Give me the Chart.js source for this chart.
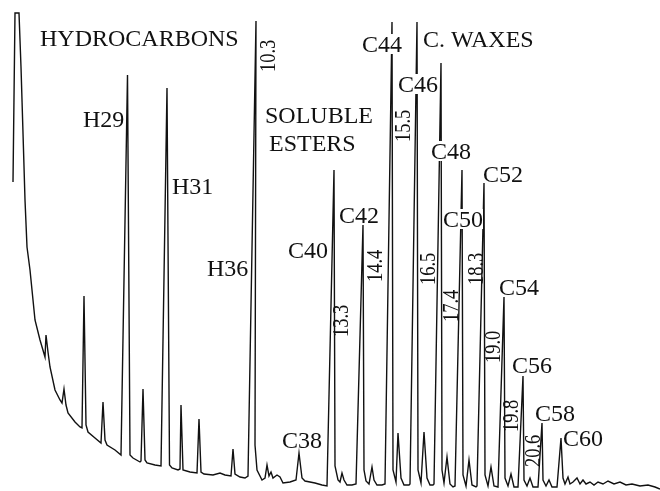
<!DOCTYPE html>
<html>
<head>
<meta charset="utf-8">
<script src="https://cdn.jsdelivr.net/npm/chart.js@4"></script>
<style>
  html, body { margin: 0; padding: 0; background: #ffffff; }
  #wrap { width: 660px; height: 491px; position: relative; }
</style>
</head>
<body>
<div id="wrap"><canvas id="c"></canvas></div>
<script>
// Retention (arbitrary time units) and detector signal
const retention = [13,15,19,21,23,25,27,30,33,35,40,45,46,48,50,55,60,62,64,66,68,75,80,82,84,86,88,95,101,103,105,107,115,121,127.5,130,133,140,141,143,145,147,155,161,167,169.5,172,178,180,181,183,190,197,199,201,204,213,220,225,231,233,235,240,245,248,256,255,257,262,265,267,269,271,273,277,280,283,290,296,299,302,305,315,322,327,334,335,338,340,342,344,347,352,356,363,364,366,369,372,374,377,382,385,392,393,396,398,401,404,409,410,417,418,421,424,427,430,433,434,441,442,444,447,450,453,455,462,463,466,469,472,476,477,484,485,488,491,494,498,504,505,508,511,514,518,523,524,527,530,533,538,542,543,546,549,552,557,561,563,565,568,570,573,577,580,583,586,590,594,598,603,608,614,620,626,632,640,648,655,660];
const signal = [309,478,478,424,358,291,244,221,191,171,151,134,156,139,124,101,91,88,102,86,78,69,64,63,195,66,59,53,48,89,51,46,41,36,416,36,33,29,30,102,31,28,26,25,403,26,23,21,22,86,21,19,18,72,19,17,16,18,16,15,42,17,14,13,15,470,46,21,11,13,26,15,19,13,16,14,8,9,11,38,13,10,8,6,5,321,25,11,9,18,11,6,6,7,266,21,10,7,24,11,6,6,7,469,21,9,58,13,6,6,7,469,21,8,59,13,6,6,7,428,21,8,34,7,4,5,321,16,5,31,6,4,5,308,16,5,24,5,4,194,13,5,17,4,4,115,11,5,13,4,4,68,11,5,11,4,4,53,13,7,14,7,9,13,7,11,7,9,6,9,7,10,7,9,6,7,5,6,4,2];

// Horizontal annotations: text, retention, signal (baseline-left anchor)
const peakNames   = ["HYDROCARBONS","H29","H31","H36","SOLUBLE","ESTERS","C38","C40","C42","C44","C. WAXES","C46","C48","C50","C52","C54","C56","C58","C60"];
const peakNameT   = [40,83,172,207,265,269,282,288,339,362,423,398,431,443,483,499,512,535,563];
const peakNameS   = [445,364,297,215,368,340,43,233,268,439,444,399,332,264,309,196,118,70,45];
const peakNameMask= [0,0,0,0,0,0,0,0,0,1,0,1,1,1,0,0,0,0,0];

// Vertical annotations (retention times of major peaks)
const rtLabels = ["10.3","13.3","14.4","15.5","16.5","17.4","18.3","19.0","19.8","20.6"];
const rtLabelT = [275,348,382,410,435,458,483,500,518,540];
const rtLabelS = [419,154,209,349,206,169,206,128,59,24];

const points = retention.map((t, i) => ({ x: t, y: signal[i] }));

const FONT = '24px "Liberation Serif", "Times New Roman", serif';

const annotate = {
  id: 'annotate',
  afterDatasetsDraw(chart) {
    const ctx = chart.ctx;
    const xs = chart.scales.x, ys = chart.scales.y;
    ctx.save();
    ctx.font = FONT;
    ctx.textBaseline = 'alphabetic';
    ctx.textAlign = 'left';
    peakNames.forEach((txt, i) => {
      const px = xs.getPixelForValue(peakNameT[i]);
      const py = ys.getPixelForValue(peakNameS[i]);
      if (peakNameMask[i]) {
        const w = ctx.measureText(txt).width;
        ctx.fillStyle = '#ffffff';
        ctx.fillRect(px, py - 18, w, 20);
      }
      ctx.fillStyle = '#111111';
      ctx.fillText(txt, px, py);
    });
    rtLabels.forEach((txt, i) => {
      const px = xs.getPixelForValue(rtLabelT[i]);
      const py = ys.getPixelForValue(rtLabelS[i]);
      ctx.save();
      ctx.translate(px, py);
      ctx.rotate(-Math.PI / 2);
      ctx.scale(0.77, 1);
      ctx.fillStyle = '#111111';
      ctx.fillText(txt, 0, 0);
      ctx.restore();
    });
    ctx.restore();
  }
};

new Chart(document.getElementById('c'), {
  type: 'scatter',
  data: {
    datasets: [{
      data: points,
      showLine: true,
      borderColor: '#111111',
      borderWidth: 1.4,
      pointRadius: 0,
      tension: 0,
      fill: false
    }]
  },
  options: {
    responsive: true,
    maintainAspectRatio: false,
    animation: false,
    layout: { padding: 0 },
    plugins: { legend: { display: false }, tooltip: { enabled: false } },
    scales: {
      x: { type: 'linear', min: 0, max: 660, display: false },
      y: { type: 'linear', min: 0, max: 491, display: false }
    }
  },
  plugins: [annotate]
});
</script>
</body>
</html>
